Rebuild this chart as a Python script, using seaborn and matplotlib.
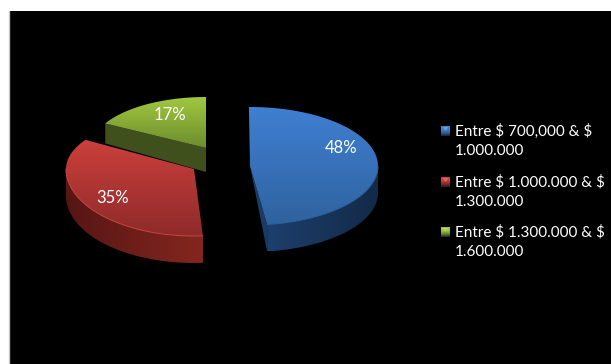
import numpy as np
import matplotlib
matplotlib.use("Agg")
import matplotlib.pyplot as plt
from matplotlib.patches import Polygon, Rectangle
import seaborn as sns

# Income bands and their share of the total
categories = ["Entre $ 700,000 & $\n1.000.000",
              "Entre $ 1.000.000 & $\n1.300.000",
              "Entre $ 1.300.000 & $\n1.600.000"]
shares = [48, 35, 17]

# Colour ramps: top face (light to dark), side wall (left to right), inner wall
top_ramps = [["#3f7fd2", "#2f639f"], ["#cc403c", "#8e2a2a"], ["#9fc83f", "#6e8c2e"]]
side_ramps = [["#1d3f6c", "#132a48"], ["#85261f", "#561614"], ["#46591f", "#3d4e1b"]]
inner_colors = ["#1b3b66", "#5a1715", "#3f501c"]
rim_colors = ["#2f639f", "#c8473f", "#93b83c"]

# Projected geometry of each exploded slice, in figure pixels:
# horizontal radius, then vertical radii behind and in front of the centre
centers = [(250, 166), (194, 169), (206, 148)]
radii = [(128, 59, 59), (128, 55, 67), (115, 51, 51)]
depths = [27, 27, 22]
starts = [-0.5, 176, 298.8]
label_xy = [(341, 148), (113, 198), (170, 115)]
legend_y = [131, 182, 232]

sns.set_theme(style="white")
plt.rcParams["font.family"] = ["Lato", "DejaVu Sans"]

fig = plt.figure(figsize=(6.11, 3.64), dpi=100, facecolor="white")
ax = fig.add_axes([0, 0, 1, 1])
ax.set_axis_off()
ax.add_patch(Rectangle((9, 11), 602, 353, fc="black", ec="none", zorder=0))
ax.plot([8.5, 8.5], [11, 364], color="#c8c8c8", lw=1, zorder=0)


def rim(center, radius, a0, a1, n=120):
    """Points on the elliptical rim; angles run clockwise from twelve o'clock."""
    t = np.radians(np.linspace(a0, a1, n))
    cos_t = np.cos(t)
    vertical = np.where(cos_t > 0, radius[1], radius[2])
    return np.column_stack([center[0] + radius[0] * np.sin(t),
                            center[1] - vertical * cos_t])


def shaded(points, colors, z, horizontal=False):
    """Fill a polygon with a linear colour ramp."""
    cmap = sns.blend_palette(colors, 64, as_cmap=True)
    grad = np.linspace(0, 1, 128)
    grad = grad[None, :] if horizontal else grad[:, None]
    x0, y0 = points.min(axis=0)
    x1, y1 = points.max(axis=0)
    img = ax.imshow(grad, cmap=cmap, extent=(x0, x1, y1, y0), aspect="auto",
                    zorder=z, interpolation="bilinear")
    img.set_clip_path(Polygon(points, closed=True, transform=ax.transData))


# Back slices first so the nearer ones overlap them
for i, z in zip([2, 1, 0], [2, 5, 8]):
    sweep = 360 * shares[i] / 100
    a0, a1 = starts[i], starts[i] + sweep
    c, r, d = centers[i], radii[i], depths[i]
    arc = rim(c, r, a0, a1)

    if i == 0:
        # Exposed cut face and the front wall on the right-hand slice
        end = arc[-1]
        ax.add_patch(Polygon([c, end, end + [0, d]], closed=True,
                             fc=inner_colors[i], ec="none", zorder=z))
        front = rim(c, r, 90, a1)
        wall = np.vstack([front, (front + [0, d])[::-1]])
        shaded(wall, side_ramps[i], z + 0.5, horizontal=True)
    elif i == 1:
        # Front wall sweeping from the near edge round to the far left
        front = rim(c, r, a0, 270)
        wall = np.vstack([front, (front + [0, d])[::-1]])
        shaded(wall, side_ramps[i][::-1], z + 0.5, horizontal=True)
    else:
        # Cut face seen along the lower edge of the rear slice
        start = arc[0]
        face = np.array([c, start, start + [0, d - 2], np.add(c, (0, d + 2))])
        ax.add_patch(Polygon(face, closed=True, fc=inner_colors[i], ec="none", zorder=z))

    top = np.vstack([[c], arc])
    shaded(top, top_ramps[i], z + 1)
    if i < 2:
        lit = rim(c, r, 90 if i == 0 else a0, a1 if i == 0 else 270)
        ax.plot(lit[:, 0], lit[:, 1], color=rim_colors[i], lw=0.7, zorder=z + 1.2)

    ax.text(*label_xy[i], f"{shares[i]}%", color="white", fontsize=12,
            ha="center", va="center", zorder=20)

# Legend: bevelled colour key followed by a two-line label
for name, y, ramp in zip(categories, legend_y, top_ramps):
    key = np.array([[441, y - 5], [450, y - 5], [450, y + 5], [441, y + 5]], float)
    shaded(key, [ramp[0], ramp[0], ramp[1], "#202020"], 20)
    tip = np.array([[442.5, y - 4], [448.5, y - 4], [445.5, y]], float)
    ax.add_patch(Polygon(tip, closed=True, fc="white", alpha=0.22, ec="none", zorder=21))
    first, second = name.split("\n")
    ax.text(455, y, first, color="white", fontsize=11, va="center", zorder=20,
            parse_math=False)
    ax.text(455, y + 20, second, color="white", fontsize=11, va="center", zorder=20,
            parse_math=False)

ax.set_xlim(0, 611)
ax.set_ylim(364, 0)
fig.savefig("out.png", dpi=100, facecolor="white")
